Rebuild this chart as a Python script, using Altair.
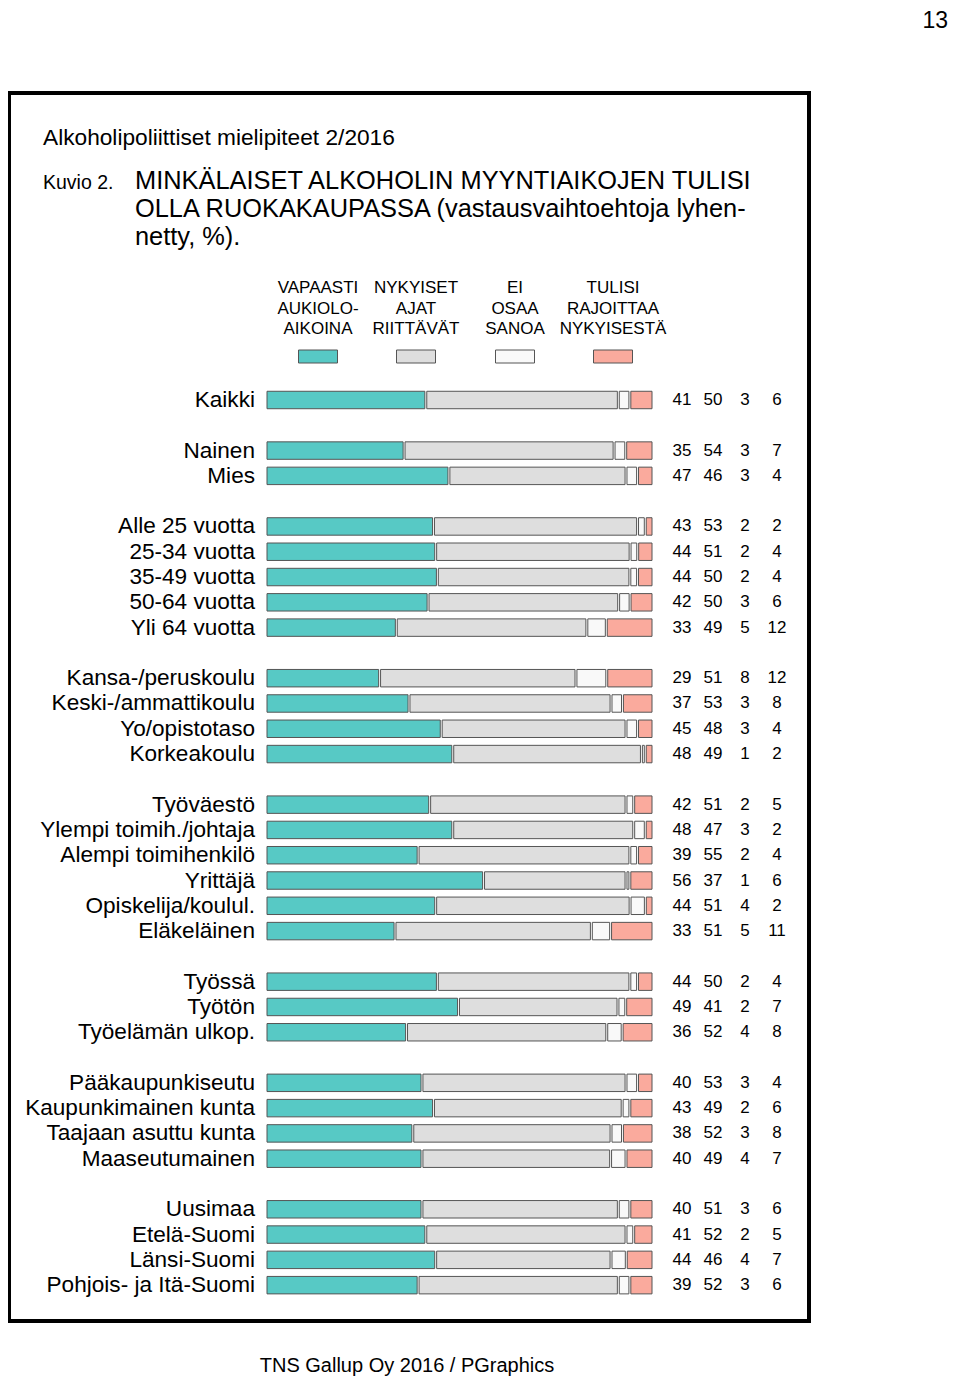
import altair as alt
import pandas as pd

# ---------------- data ----------------
answer_cats = ["VAPAASTI AUKIOLOAIKOINA", "NYKYISET AJAT RIITTÄVÄT", "EI OSAA SANOA", "TULISI RAJOITTAA NYKYISESTÄ"]
answer_headers = [["VAPAASTI", "AUKIOLO-", "AIKOINA"],
                  ["NYKYISET", "AJAT", "RIITTÄVÄT"],
                  ["EI", "OSAA", "SANOA"],
                  ["TULISI", "RAJOITTAA", "NYKYISESTÄ"]]
answer_colors = ["#57c9c5", "#dedede", "#f9f9f9", "#faaa9d"]

groups = [
    ["Kaikki"],
    ["Nainen", "Mies"],
    ["Alle 25 vuotta", "25-34 vuotta", "35-49 vuotta", "50-64 vuotta", "Yli 64 vuotta"],
    ["Kansa-/peruskoulu", "Keski-/ammattikoulu", "Yo/opistotaso", "Korkeakoulu"],
    ["Työväestö", "Ylempi toimih./johtaja", "Alempi toimihenkilö", "Yrittäjä",
     "Opiskelija/koulul.", "Eläkeläinen"],
    ["Työssä", "Työtön", "Työelämän ulkop."],
    ["Pääkaupunkiseutu", "Kaupunkimainen kunta", "Taajaan asuttu kunta", "Maaseutumainen"],
    ["Uusimaa", "Etelä-Suomi", "Länsi-Suomi", "Pohjois- ja Itä-Suomi"],
]

vapaasti = [41, 35, 47, 43, 44, 44, 42, 33, 29, 37, 45, 48, 42, 48, 39, 56, 44, 33,
            44, 49, 36, 40, 43, 38, 40, 40, 41, 44, 39]
nykyiset = [50, 54, 46, 53, 51, 50, 50, 49, 51, 53, 48, 49, 51, 47, 55, 37, 51, 51,
            50, 41, 52, 53, 49, 52, 49, 51, 52, 46, 52]
eos = [3, 3, 3, 2, 2, 2, 3, 5, 8, 3, 3, 1, 2, 3, 2, 1, 4, 5,
       2, 2, 4, 3, 2, 3, 4, 3, 2, 4, 3]
rajoittaa = [6, 7, 4, 2, 4, 4, 6, 12, 12, 8, 4, 2, 5, 2, 4, 6, 2, 11,
             4, 7, 8, 4, 6, 8, 7, 6, 5, 7, 6]

page_number = "13"
subtitle = "Alkoholipoliittiset mielipiteet 2/2016"
figure_no = "Kuvio 2."
title_lines = ["MINKÄLAISET ALKOHOLIN MYYNTIAIKOJEN TULISI",
               "OLLA RUOKAKAUPASSA (vastausvaihtoehtoja lyhen-",
               "netty, %)."]
footer = "TNS Gallup Oy 2016 / PGraphics"

# ---------------- tables ----------------
labels, rows = [], []
r = 0
for gi, g in enumerate(groups):
    if gi > 0:
        r += 1  # blank row between groups
    for lab in g:
        labels.append(lab)
        rows.append(r)
        r += 1
n_rows = r

series = [vapaasti, nykyiset, eos, rajoittaa]
GAP = 0.5
seg = []
for i, lab in enumerate(labels):
    vals = [s[i] for s in series]
    tot = sum(vals)
    cum = 0.0
    for c, v in zip(answer_cats, vals):
        w = v * 100.0 / tot
        seg.append({"row": rows[i], "cat": c, "start": cum + (GAP if cum > 0 else 0), "end": cum + w})
        cum += w
seg_df = pd.DataFrame(seg)

lab_df = pd.DataFrame({"row": rows, "label": labels,
                       "v1": vapaasti, "v2": nykyiset, "v3": eos, "v4": rajoittaa})

FONT = "Liberation Sans"
W, H = 944, 1368
step = 25.29
y0 = 392 - step / 2
yscale = alt.Scale(domain=list(range(n_rows)), range=[y0, y0 + step * n_rows],
                   paddingInner=0.31, paddingOuter=0.155)
xscale = alt.Scale(domain=[0, 100], range=[259, 644])

bars = alt.Chart(seg_df).mark_rect(stroke="#555555", strokeWidth=1).encode(
    x=alt.X("start:Q", scale=xscale, axis=None),
    x2="end:Q",
    y=alt.Y("row:O", scale=yscale, axis=None),
    color=alt.Color("cat:N", scale=alt.Scale(domain=answer_cats, range=answer_colors), legend=None),
)

cat_text = alt.Chart(lab_df).mark_text(align="right", baseline="middle", font=FONT,
                                       fontSize=22.6, color="black").encode(
    x=alt.value(247), y=alt.Y("row:O", scale=yscale, axis=None), text="label:N")

num_layers = []
for col, xpos in zip(["v1", "v2", "v3", "v4"], [674, 705, 737, 769]):
    num_layers.append(
        alt.Chart(lab_df).mark_text(align="center", baseline="middle", font=FONT,
                                    fontSize=17, color="black").encode(
            x=alt.value(xpos), y=alt.Y("row:O", scale=yscale, axis=None), text=f"{col}:Q"))

one = pd.DataFrame({"a": [0]})


def txt(s, x, y, size, align="left", baseline="middle", font=FONT):
    return alt.Chart(one).mark_text(align=align, baseline=baseline, font=font,
                                    fontSize=size, color="black").encode(
        x=alt.value(x), y=alt.value(y), text=alt.value(s))


texts = [
    txt(page_number, 940, 2, 23, align="right", baseline="top"),
    txt(subtitle, 35, 130, 22.7),
    txt(figure_no, 35, 175, 19.5),
    txt(footer, 399, 1358, 20, align="center"),
]
for k, line in enumerate(title_lines):
    texts.append(txt(line, 127, 173 + 28 * k, 25.4))

header_x = [310, 408, 507, 605]
for hx, lines in zip(header_x, answer_headers):
    for k, line in enumerate(lines):
        texts.append(txt(line, hx, 280 + 20.5 * k, 17, align="center"))

swatches = []
for hx, colr in zip(header_x, answer_colors):
    swatches.append(alt.Chart(one).mark_rect(fill=colr, stroke="#555555", strokeWidth=1).encode(
        x=alt.value(hx - 19.5), x2=alt.value(hx + 19.5), y=alt.value(342), y2=alt.value(355)))

frame = alt.Chart(one).mark_rect(fill=None, fillOpacity=0, stroke="black", strokeWidth=4).encode(
    x=alt.value(1), x2=alt.value(801), y=alt.value(85), y2=alt.value(1313))

chart = alt.layer(frame, bars, cat_text, *num_layers, *swatches, *texts).properties(
    width=W, height=H, autosize=alt.AutoSizeParams(type="none"), padding=0
).configure_view(stroke=None)

chart.save("out.html", embed_options={"renderer": "svg", "actions": False})
